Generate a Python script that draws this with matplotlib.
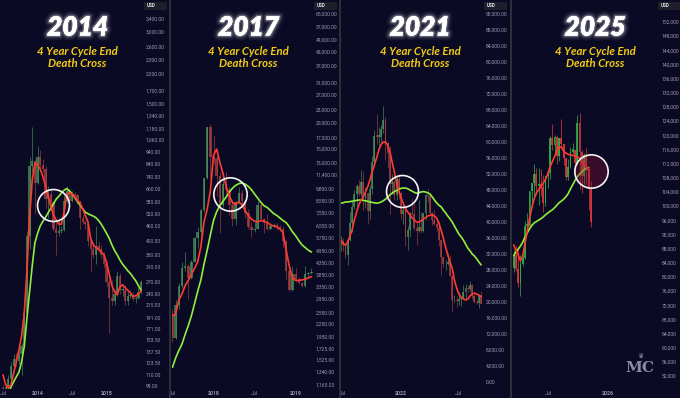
import matplotlib
matplotlib.use('Agg')
import matplotlib.pyplot as plt
import matplotlib.dates as mdates
import matplotlib.patheffects as pe
from matplotlib.patches import Rectangle
from matplotlib.ticker import FixedLocator, FuncFormatter, NullLocator, NullFormatter
import numpy as np
import pandas as pd

BG = '#0b0a25'

# ---------------- Panel 1 : 2014 (bi-weekly candles) ----------------
p1_start = '2013-07-01'
p1_open = [97, 95, 98, 106, 120, 128, 126, 135, 145, 200, 420, 820, 860, 700, 900, 830, 800, 600, 630, 580,
           450, 430, 440, 445, 590, 650, 590, 630, 620, 585, 500, 480, 470, 400, 370, 350, 380, 370, 350, 320,
           270, 230, 225, 240, 285, 250, 250, 225, 235, 237, 228, 230, 245]
p1_high = [100, 101, 110, 124, 135, 136, 140, 150, 215, 440, 900, 1200, 880, 1000, 960, 880, 820, 680, 660, 590,
           480, 500, 460, 620, 680, 660, 650, 640, 630, 590, 515, 490, 480, 410, 395, 460, 400, 385, 360, 330,
           280, 275, 250, 300, 295, 265, 262, 245, 245, 245, 235, 255, 275]
p1_low = [90, 90, 96, 104, 118, 120, 122, 110, 143, 198, 370, 780, 520, 690, 800, 780, 550, 500, 560, 440,
          350, 420, 430, 440, 580, 560, 580, 610, 570, 450, 470, 450, 380, 300, 340, 320, 360, 340, 310, 260,
          165, 215, 215, 235, 240, 235, 215, 215, 230, 225, 220, 228, 240]
p1_close = [95, 98, 106, 120, 128, 126, 135, 145, 200, 420, 820, 860, 700, 900, 830, 800, 600, 630, 580, 450,
            430, 440, 445, 590, 650, 590, 630, 620, 585, 500, 480, 470, 400, 370, 350, 380, 370, 350, 320, 270,
            230, 225, 240, 285, 250, 250, 225, 235, 237, 228, 230, 245, 268]
p1_fast = [110, 100, 97, 100, 112, 125, 140, 160, 200, 300, 500, 720, 848, 835, 800, 745, 680, 620, 555, 515,
           490, 470, 470, 530, 625, 636, 630, 610, 590, 577, 545, 510, 480, 410, 385, 375, 368, 360, 350, 324,
           290, 260, 245, 238, 257, 262, 255, 248, 243, 233, 236, 240, 247]
p1_slow = [85, 88, 92, 98, 103, 108, 113, 125, 145, 190, 245, 315, 393, 430, 462, 483, 502, 525, 548, 572,
           598, 615, 635, 652, 662, 648, 630, 607, 585, 566, 545, 527, 520, 513, 508, 500, 487, 470, 450, 430,
           410, 385, 365, 350, 333, 320, 310, 300, 292, 282, 272, 260, 248]
p1_yticks = [99, 110, 123.5, 137.5, 153.5, 171, 191, 215, 240, 270, 310, 350, 400, 460, 520, 580, 660, 740,
             840, 940, 1060, 1180, 1340, 1500, 1700, 2000, 2300, 2600, 3000, 3400]
p1_xticks = ['2013-07-01', '2014-01-01', '2014-07-01', '2015-01-01']
p1_xlabels = ['Jul', '2014', 'Jul', '2015']
p1_cross = ('2014-03-21', 566)

# ---------------- Panel 2 : 2017 (bi-weekly candles) ----------------
p2_start = '2017-07-03'
p2_open = [2500, 1930, 2750, 3400, 4100, 4200, 3700, 4400, 5700, 6100, 7700, 10900, 19000, 13800, 13600, 11200,
           8200, 10300, 9600, 8200, 7000, 8400, 9300, 8500, 7500, 6400, 6200, 6300, 8200, 7000, 6700, 6300, 6500,
           6550, 6400, 6300, 5550, 4000, 3250, 3850, 3650, 3500, 3400, 3850, 3900]
p2_high = [2650, 2900, 3500, 4400, 4900, 4300, 4500, 5800, 6400, 7800, 11000, 19000, 19700, 17200, 14000, 11700,
           11700, 11700, 9900, 8500, 8500, 9900, 9600, 8600, 7800, 6800, 6800, 8500, 8300, 7100, 7400, 6600, 6750,
           6700, 6550, 6500, 5600, 4300, 4200, 4100, 3750, 3550, 4200, 3950, 4100]
p2_low = [1850, 1900, 2650, 3300, 4000, 2950, 3650, 4400, 5100, 5500, 7600, 10800, 11000, 12800, 9000, 6000,
          8000, 9000, 7300, 6500, 6600, 8300, 8000, 7100, 6300, 5800, 6100, 6300, 6900, 6000, 6200, 6200, 6400,
          6200, 6250, 5200, 3600, 3200, 3200, 3550, 3450, 3350, 3350, 3700, 3850]
p2_close = [1930, 2750, 3400, 4100, 4200, 3700, 4400, 5700, 6100, 7700, 10900, 19000, 13800, 13600, 11200, 8200,
            10300, 9600, 8200, 7000, 8400, 9300, 8500, 7500, 6400, 6200, 6300, 8200, 7000, 6700, 6300, 6500, 6550,
            6400, 6300, 5550, 4000, 3250, 3850, 3650, 3500, 3400, 3850, 3900, 3950]
p2_fast = [2450, 2500, 2900, 3100, 3400, 3600, 3850, 4100, 4400, 5200, 6800, 7800, 9500, 14000, 15000, 13000,
           11500, 10000, 9000, 8400, 8200, 8450, 8200, 7700, 7300, 7000, 6850, 6800, 6900, 6850, 6750, 6600, 6500,
           6450, 6300, 6050, 5000, 4200, 3700, 3600, 3600, 3620, 3650, 3700, 3750]
p2_slow = [1400, 1550, 1680, 1800, 2000, 2200, 2450, 2800, 3200, 3620, 4300, 5000, 5900, 6900, 7600, 8100,
           8500, 8900, 9400, 9800, 10100, 10300, 10370, 10250, 10000, 9650, 9200, 8800, 8400, 8100, 7950, 7700,
           7450, 7300, 7100, 6900, 6750, 6450, 6100, 5850, 5550, 5300, 5150, 5000, 4900]
p2_yticks = [1165, 1340, 1525, 1725, 1950, 2250, 2550, 2950, 3350, 3850, 4350, 4950, 5750, 6550, 7550, 8550,
             9800, 11400, 13000, 15000, 17000, 20000, 23000, 27000, 31000, 37000, 43000, 49000, 57000, 65000]
p2_xticks = ['2017-07-01', '2018-01-01', '2018-07-01', '2019-01-01']
p2_xlabels = ['Jul', '2018', 'Jul', '2019']
p2_cross = ('2018-03-16', 9200)

# ---------------- Panel 3 : 2021 (weekly candles) ----------------
p3_start = '2021-06-28'
p3_open = [34700, 35300, 34250, 31800, 35400, 39800, 43800, 47000, 48900, 47100, 49900, 46000, 47300, 42800,
           48200, 54900, 61500, 61300, 61300, 63300, 65500, 59700, 57300, 49400, 50100, 46700, 50800, 47300,
           41900, 43100, 36300, 38100, 42200, 42100, 38400, 37700, 38800, 37800, 42200, 46800, 46400, 42200,
           40400, 39400, 38500, 35500, 31300, 29400, 29400, 29900, 26600, 20500, 20600, 20300, 20800, 20800,
           22600, 23600, 23200, 24300, 21500, 20000, 19800, 21700]
p3_high = [36600, 35900, 34650, 35400, 42600, 45300, 48100, 49400, 50500, 52900, 52800, 48800, 47300, 49200,
           56500, 62900, 67000, 63700, 64300, 69000, 66300, 59900, 59100, 51900, 50500, 51800, 52000, 47500,
           44400, 43500, 38900, 42600, 45800, 44700, 40000, 45400, 42400, 42300, 46900, 48200, 47100, 42400,
           42900, 40700, 40000, 35600, 31300, 30600, 32200, 31700, 26800, 21800, 21500, 22400, 21600, 24200,
           24600, 24000, 25200, 24500, 21900, 20600, 21800, 22700]
p3_low = [32700, 32700, 31000, 29300, 35200, 37600, 43300, 43900, 46500, 46600, 42900, 43400, 39600, 40800,
          47100, 54100, 59600, 58000, 59500, 62300, 55600, 53500, 42000, 47100, 45600, 45600, 45700, 40700,
          39600, 34000, 33000, 36300, 41700, 38000, 34300, 37600, 37200, 37600, 40500, 45100, 42100, 39200,
          39300, 37700, 34000, 26700, 28700, 28000, 29300, 26500, 17600, 19900, 18700, 19300, 18900, 20800,
          20800, 22500, 22700, 20800, 19800, 19500, 18500, 19400]
p3_close = [35300, 34250, 31800, 35400, 39800, 43800, 47000, 48900, 47100, 49900, 46000, 47300, 42800, 48200,
            54900, 61500, 61300, 61300, 63300, 65500, 59700, 57300, 49400, 50100, 46700, 50800, 47300, 41900,
            43100, 36300, 38100, 42200, 42100, 38400, 37700, 38800, 37800, 42200, 46800, 46400, 42200, 40400,
            39400, 38500, 35500, 31300, 29400, 29400, 29900, 26600, 20500, 20600, 20300, 20800, 20800, 22600,
            23600, 23200, 24300, 21500, 20000, 19800, 21700, 19400]
p3_fast = [35500, 34600, 34200, 35000, 36500, 38000, 40500, 42500, 44200, 45500, 46300, 47500, 48800, 50500,
           52500, 54200, 56000, 58000, 59300, 60000, 60000, 59200, 57500, 55000, 52500, 49800, 47800, 46000,
           44700, 43300, 42500, 41800, 41000, 40500, 40000, 40000, 40300, 40700, 41100, 41500, 41700, 41800,
           41500, 41000, 39800, 38000, 36000, 33800, 31800, 30000, 28500, 25500, 23500, 22000, 21200, 20800,
           20500, 20700, 21500, 22000, 22200, 22000, 21700, 21300]
p3_slow = [44700, 44800, 45000, 45000, 45100, 45200, 45300, 45400, 45500, 45500, 45400, 45300, 45200, 45000,
           44900, 44800, 44700, 44800, 45000, 45300, 45700, 46200, 46800, 47200, 47600, 47900, 48200, 48400,
           48500, 48500, 48300, 48000, 47700, 47400, 47200, 47300, 47500, 47600, 47500, 47300, 47000, 46300,
           45500, 44800, 44200, 43800, 43000, 42300, 41500, 40800, 40000, 39000, 38000, 37000, 36300, 35500,
           34500, 33500, 32800, 32000, 31500, 30800, 30000, 29300]
p3_yticks = [0, 4000, 8000, 12000, 16000, 20000, 24000, 28000, 32000, 36000, 40000, 44000, 48000, 52000,
             56000, 60000, 64000, 68000, 72000, 76000, 80000, 84000, 88000, 92000]
p3_xticks = ['2021-07-01', '2022-01-01', '2022-07-01']
p3_xlabels = ['Jul', '2022', 'Jul']
p3_cross = ('2022-01-07', 47750)

# ---------------- Panel 4 : 2025 (weekly candles) ----------------
p4_start = '2025-03-17'
p4_open = [82600, 86100, 82300, 78300, 83700, 85200, 94300, 94300, 104100, 106500, 109000, 105700, 105700,
           105500, 100900, 108400, 109200, 119100, 117300, 119400, 114200, 119300, 117400, 113500, 108300,
           111100, 115300, 115700, 112200, 123500, 115200, 108600, 114500, 110500, 104700]
p4_high = [87500, 88800, 88500, 86100, 86400, 95800, 97900, 104300, 106600, 111900, 110700, 110600, 110400,
           108900, 108500, 110500, 119800, 123200, 120200, 119800, 119300, 124500, 117600, 113600, 113400,
           116800, 117900, 115700, 125700, 126200, 115900, 114900, 116400, 111000, 107000]
p4_low = [81300, 81600, 77100, 74500, 83100, 85100, 92800, 93500, 100700, 102000, 103100, 100400, 102700,
          98200, 100100, 105100, 107500, 115700, 114700, 111900, 112600, 116800, 111700, 107300, 107300,
          110800, 114700, 108600, 111500, 104800, 103600, 106300, 106300, 98900, 94000]
p4_close = [86100, 82300, 78300, 83700, 85200, 94300, 94300, 104100, 106500, 109000, 105700, 105700, 105500,
            100900, 108400, 109200, 119100, 117300, 119400, 114200, 119300, 117400, 113500, 108300, 111100,
            115300, 115700, 112200, 123500, 115200, 108600, 114500, 110500, 104700, 95500]
p4_fast = [89000, 87500, 86200, 84500, 86000, 89500, 93000, 96500, 99500, 102000, 103700, 104600, 105400,
           106500, 107500, 109000, 111000, 112500, 113900, 115500, 116500, 116700, 115500, 115000, 114600,
           114400, 114300, 114100, 113900, 113500, 112600, 111800, 111000, 110200]
p4_slow = [86000, 87000, 87800, 88700, 89800, 91200, 92400, 93600, 94500, 95200, 95600, 96000, 96400, 96900,
           97500, 98000, 98500, 98900, 99500, 100200, 100900, 101400, 101900, 102600, 103500, 104800, 106000,
           107200, 108200, 109000, 109700, 110200, 110600, 110900]
p4_yticks = list(range(52000, 152001, 4000))
p4_xticks = ['2025-07-01', '2026-01-01']
p4_xlabels = ['Jul', '2026']
p4_cross = ('2025-11-10', 109900)

titles = ['2014', '2017', '2021', '2025']
subtitle = '4 Year Cycle End\nDeath Cross'

# ---------------- drawing ----------------
W, H = 680, 398
PLOT_BOTTOM = 389
fig = plt.figure(figsize=(W / 100, H / 100), dpi=100)
fig.patch.set_facecolor(BG)

LABEL_C = '#9a9aae'
RED_MA = '#ff3b2f'
GREEN_MA = '#8ff03c'
TICK_FONT = ['Roboto', 'DejaVu Sans']


def make_ax(x0, x1):
    ax = fig.add_axes([x0 / W, (H - PLOT_BOTTOM) / H, (x1 - x0) / W, PLOT_BOTTOM / H])
    ax.set_facecolor(BG)
    for s in ax.spines.values():
        s.set_visible(False)
    return ax


def dnum(s):
    return mdates.date2num(pd.Timestamp(s).to_pydatetime())


def panel(x0, x1, start, freq_days, o, h, l, c, fast, slow, log, ylim, xlim, yticks, fmt,
          xticks, xlabels, cross, ms, up, down, alpha, width_frac, cross_fill='none'):
    ax = make_ax(x0, x1)
    dates = mdates.date2num(pd.date_range(start, periods=len(c), freq=f'{freq_days}D').to_pydatetime())
    o, h, l, c = map(np.asarray, (o, h, l, c))
    if log:
        ax.set_yscale('log')
    colors = np.where(c >= o, up, down)
    ax.vlines(dates, l, h, colors=colors, linewidth=0.6, alpha=alpha, zorder=2)
    bottoms = np.minimum(o, c)
    heights = np.maximum(np.abs(c - o), bottoms * 0.006)
    ax.bar(dates, heights, width=freq_days * width_frac, bottom=bottoms, color=colors, alpha=alpha,
           linewidth=0, zorder=2, align='center')
    ax.plot(dates[:len(slow)], slow, color=GREEN_MA, lw=1.2, zorder=4, solid_capstyle='round')
    ax.plot(dates[:len(fast)], fast, color=RED_MA, lw=1.2, zorder=5, solid_capstyle='round')
    ax.plot([dnum(cross[0])], [cross[1]], marker='o', ms=ms, mfc=cross_fill, mec='#f4f4f4', mew=1.2,
            zorder=7, clip_on=False, linestyle='none')
    ax.set_ylim(*ylim)
    ax.set_xlim(dnum(xlim[0]), dnum(xlim[1]))
    ax.yaxis.tick_right()
    ax.yaxis.set_major_locator(FixedLocator(yticks))
    ax.yaxis.set_minor_locator(NullLocator())
    ax.yaxis.set_minor_formatter(NullFormatter())
    ax.yaxis.set_major_formatter(FuncFormatter(fmt))
    ax.tick_params(axis='y', length=0, pad=2.0, labelsize=3.6, labelcolor=LABEL_C)
    for t in ax.get_yticklabels():
        t.set_family(TICK_FONT)
    ax.set_xticks([dnum(t) for t in xticks])
    ax.set_xticklabels(xlabels)
    ax.xaxis.set_minor_locator(NullLocator())
    ax.tick_params(axis='x', length=0, pad=1.5, labelsize=3.7, labelcolor=LABEL_C)
    for t in ax.get_xticklabels():
        t.set_family(TICK_FONT)
        if t.get_text().isdigit():
            t.set_fontweight('bold')
    return ax


fmt2 = lambda v, p: f'{v:,.2f}'
fmt0 = lambda v, p: f'{v:,.0f}'

panel(0, 143, p1_start, 14, p1_open, p1_high, p1_low, p1_close, p1_fast, p1_slow, True, (96, 4077),
      ('2013-06-15', '2015-07-09'), p1_yticks, fmt2, p1_xticks, p1_xlabels, p1_cross, 23,
      '#4f9a5c', '#b04545', 0.7, 0.85)
panel(172, 313, p2_start, 14, p2_open, p2_high, p2_low, p2_close, p2_fast, p2_slow, True, (1107, 75700),
      ('2017-07-05', '2019-03-18'), p2_yticks, fmt2, p2_xticks, p2_xlabels, p2_cross, 24,
      '#4f9a5c', '#b04545', 0.7, 0.8)
panel(341, 483, p3_start, 7, p3_open, p3_high, p3_low, p3_close, p3_fast, p3_slow, False, (-1750, 95500),
      ('2021-06-28', '2022-09-18'), p3_yticks, fmt2, p3_xticks, p3_xlabels, p3_cross, 23,
      '#4f9a5c', '#b04545', 0.7, 0.85)
panel(513, 659, p4_start, 7, p4_open, p4_high, p4_low, p4_close, p4_fast, p4_slow, False, (48300, 158200),
      ('2025-03-15', '2026-06-08'), p4_yticks, fmt0, p4_xticks, p4_xlabels, p4_cross, 24,
      '#2fb44a', '#e0393b', 0.85, 0.8, cross_fill=(0.55, 0.08, 0.22, 0.35))

# separators between panels
for sx in (168.5, 338.8, 509.6):
    fig.add_artist(Rectangle((sx / W, 0), 2.6 / W, 1, transform=fig.transFigure,
                             facecolor='#2e2e38', edgecolor='none', zorder=10))

# USD boxes
for bx0, bx1 in ((144, 167), (314, 337), (484, 507), (658, 680)):
    fig.add_artist(Rectangle((bx0 / W, 1 - 9.5 / H), (bx1 - bx0) / W, 8 / H, transform=fig.transFigure,
                             facecolor='#1f1f2c', edgecolor='none', zorder=10))
    fig.text((bx0 + 2.5) / W, 1 - 5.6 / H, 'USD', fontsize=3.3, color='#e8e8ee', ha='left', va='center',
             fontweight='bold', family=TICK_FONT, zorder=11)

# titles
glow = [pe.Stroke(linewidth=7, foreground=(1, 1, 1, 0.06)),
        pe.Stroke(linewidth=4, foreground=(1, 1, 1, 0.12)),
        pe.Stroke(linewidth=2, foreground=(1, 1, 1, 0.25)),
        pe.Normal()]
for cx, t in zip((77.5, 248.5, 420, 595), titles):
    fig.text(cx / W, 1 - 27.5 / H, t, fontsize=19, family=['Lato', 'DejaVu Sans'], fontweight='heavy',
             style='italic', color='white', ha='center', va='center', path_effects=glow, zorder=12)
    fig.text(cx / W, 1 - 57.5 / H, subtitle, fontsize=8.2, family=['Lato', 'DejaVu Sans'],
             fontweight='bold', style='italic', color='#f3cc12', ha='center', va='center',
             linespacing=1.05, zorder=12)

# logo
fig.text(640 / W, 1 - 368 / H, 'MC', fontsize=11, family=['DejaVu Serif'], fontweight='bold',
         color='#8d88a6', ha='center', va='center', zorder=12)
fig.text(640 / W, 1 - 356 / H, '\u265B', fontsize=5, family=['DejaVu Sans'],
         color='#8d88a6', ha='center', va='center', zorder=12)

fig.savefig('out.png', dpi=100, facecolor=BG)
